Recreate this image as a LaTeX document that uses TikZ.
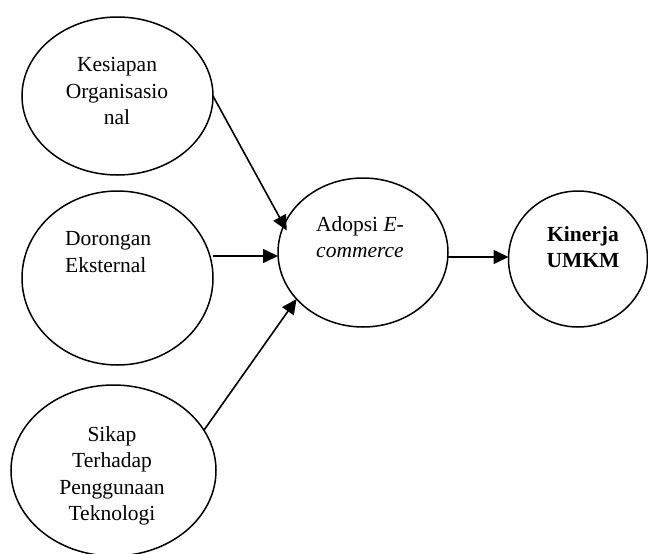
\documentclass[tikz,border=0pt]{standalone}
\usepackage{fontspec}
\setmainfont{Liberation Serif}
\usetikzlibrary{shapes.geometric,arrows.meta}
\begin{document}
\begin{tikzpicture}[x=1pt,y=-1pt,
  ell/.style={draw, ellipse, line width=1.5pt, inner sep=0pt, outer sep=0pt},
  txt/.style={align=center, inner sep=0pt, font=\fontsize{21.5}{26.5}\selectfont},
  arr/.style={line width=1.6pt, -{Triangle[length=15pt,width=14pt]}}]
\useasboundingbox (0,0) rectangle (648,554);
\node[ell, minimum width=191pt, minimum height=158pt] (ko) at (117.5,96) {};
\node[ell, minimum width=191pt, minimum height=174pt] (dor) at (117.5,278) {};
\node[ell, minimum width=205pt, minimum height=171pt] (sik) at (113.5,470.5) {};
\node[ell, minimum width=170pt, minimum height=149pt] (ad) at (363,252.5) {};
\node[ell, minimum width=139pt, minimum height=136pt] (kin) at (578,259) {};
\node[txt] (kot) at (117,91) {Kesiapan\\Organisasio\\nal};
\node[txt, align=left, anchor=west] (dt) at (65,252) {Dorongan\\Eksternal};
\node[txt] (adt) at (360,237) {Adopsi \textit{E-}\\\textit{commerce}};
\node[txt, font=\fontsize{21.5}{26.5}\selectfont\bfseries] (kt) at (583,247) {Kinerja\\UMKM};
\node[txt] (st) at (112,476) {Sikap\\Terhadap\\Penggunaan\\Teknologi};
\draw[arr, shorten >=-6pt] (ko.east) -- (ad.161);
\draw[arr] ([yshift=-3.5pt]dor.east |- ad.west) -- ([yshift=-3.5pt]ad.west);
\draw[arr] (sik.24) -- (ad.215);
\draw[arr] ([yshift=2pt]ad.east |- kin.west) -- ([yshift=2pt]kin.west);
\end{tikzpicture}
\end{document}
